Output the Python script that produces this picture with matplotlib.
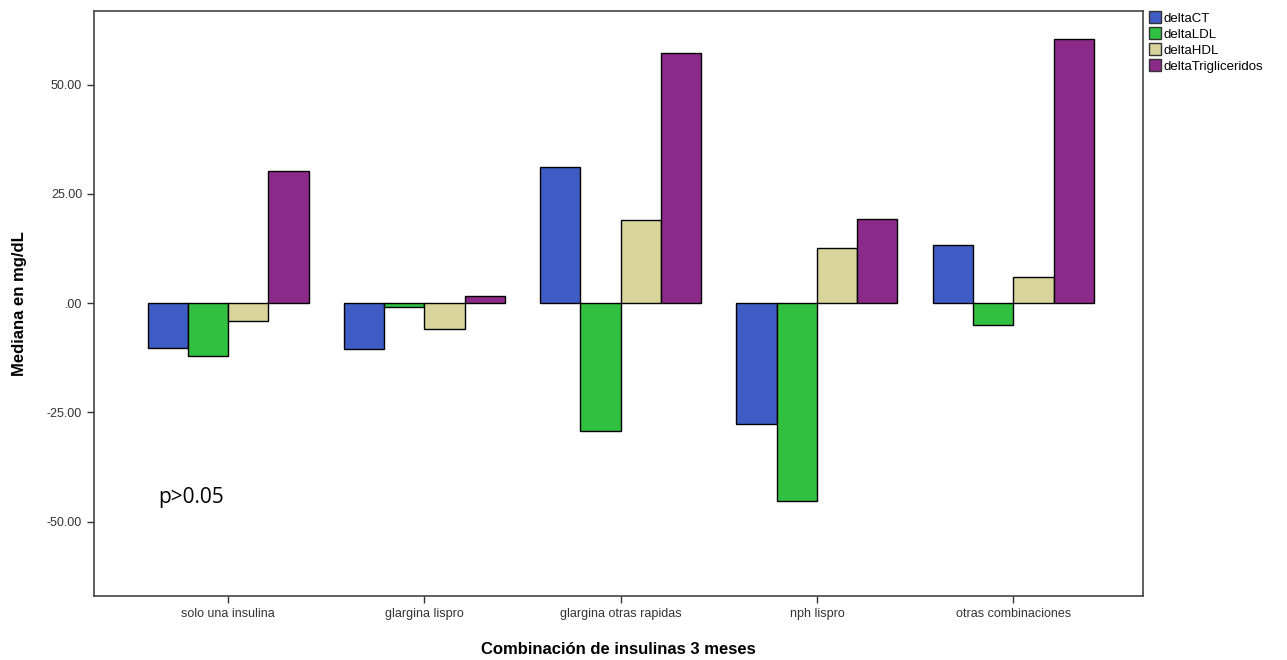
import numpy as np
import matplotlib.pyplot as plt
from matplotlib.patches import Patch

# Data
categories = ['solo una insulina', 'glargina lispro', 'glargina otras rapidas',
              'nph lispro', 'otras combinaciones']
series = ['deltaCT', 'deltaLDL', 'deltaHDL', 'deltaTrigliceridos']
delta_ct = [-10.3, -10.4, 31.1, -27.7, 13.2]
delta_ldl = [-12.0, -0.8, -29.2, -45.2, -5.0]
delta_hdl = [-4.0, -5.8, 19.1, 12.6, 6.1]
delta_tg = [30.2, 1.6, 57.3, 19.2, 60.4]
yticks = [-50, -25, 0, 25, 50]
ytick_labels = ['-50.00', '-25.00', '.00', '25.00', '50.00']

colors = ['#3f5cc4', '#31c040', '#d9d49c', '#8b2a88']

plt.rcParams['font.family'] = ['Liberation Sans', 'DejaVu Sans']

fig = plt.figure(figsize=(12.87, 6.6), dpi=100)
ax = fig.add_axes([0.073, 0.097, 0.815, 0.886])

x = np.arange(len(categories))
w = 0.205
all_series = [delta_ct, delta_ldl, delta_hdl, delta_tg]
for i, vals in enumerate(all_series):
    ax.bar(x + (i - 1.5) * w, vals, width=w, color=colors[i],
           edgecolor='black', linewidth=1.0, label=series[i])

ax.set_xlim(-0.683, 4.66)
ax.set_ylim(-67.0, 66.8)
ax.set_xticks(x)
ax.set_xticklabels(categories, fontsize=9, color='#333333')
ax.set_yticks(yticks)
ax.set_yticklabels(ytick_labels, fontsize=9, color='#333333')
ax.tick_params(direction='out', length=5, width=1, color='#333333')

for s in ax.spines.values():
    s.set_color('#444444')
    s.set_linewidth(1.2)

ax.set_ylabel('Mediana en mg/dL', fontsize=12, fontweight='bold', labelpad=14)
ax.set_xlabel('Combinación de insulinas 3 meses', fontsize=12, fontweight='bold', labelpad=16)

ax.text(0.061, 0.169, 'p>0.05', transform=ax.transAxes, fontsize=15,
        family=['Open Sans', 'DejaVu Sans'], va='center', ha='left')

handles = [Patch(facecolor=colors[i], edgecolor='#333333', label=series[i]) for i in range(4)]
fig.legend(handles=handles, loc='upper left', bbox_to_anchor=(0.887, 0.995),
           frameon=False, fontsize=9.5, handlelength=0.9, handleheight=1.0,
           handletextpad=0.2, labelspacing=0.2, borderaxespad=0.2)

fig.savefig('out.png', dpi=100)
